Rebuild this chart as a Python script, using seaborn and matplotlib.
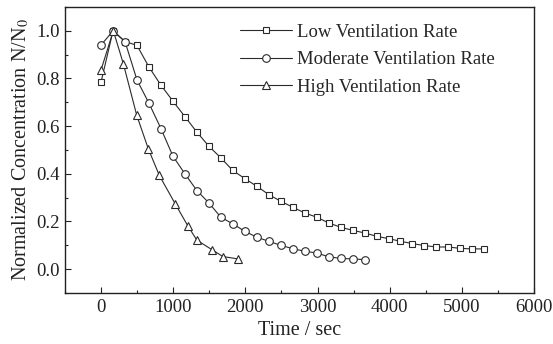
import matplotlib
matplotlib.use("Agg")
import matplotlib.pyplot as plt
from matplotlib.ticker import MultipleLocator
import seaborn as sns
import pandas as pd

# ---- data ----
series_names = ["Low Ventilation Rate", "Moderate Ventilation Rate", "High Ventilation Rate"]

low_t = [0, 166, 332, 498, 664, 830, 996, 1162, 1328, 1494, 1660, 1826, 1992, 2158,
         2324, 2490, 2656, 2822, 2988, 3154, 3320, 3486, 3652, 3818, 3984, 4150,
         4316, 4482, 4648, 4814, 4980, 5146, 5312]
low_n = [0.785, 1.0, 0.955, 0.939, 0.848, 0.772, 0.705, 0.640, 0.575, 0.516, 0.467,
         0.414, 0.380, 0.348, 0.313, 0.285, 0.260, 0.236, 0.218, 0.194, 0.176, 0.163,
         0.152, 0.138, 0.128, 0.117, 0.107, 0.099, 0.093, 0.093, 0.087, 0.085, 0.085]

mod_t = [0, 166, 332, 498, 664, 830, 996, 1162, 1328, 1494, 1660, 1826, 1992, 2158,
         2324, 2490, 2656, 2822, 2988, 3154, 3320, 3486, 3652]
mod_n = [0.940, 1.0, 0.955, 0.794, 0.696, 0.590, 0.474, 0.400, 0.330, 0.278, 0.218,
         0.190, 0.159, 0.134, 0.117, 0.100, 0.086, 0.075, 0.068, 0.052, 0.045, 0.043, 0.040]

high_t = [0, 170, 309, 495, 656, 808, 1026, 1202, 1327, 1535, 1688, 1896]
high_n = [0.836, 1.0, 0.862, 0.645, 0.504, 0.393, 0.275, 0.182, 0.122, 0.082, 0.053, 0.043]

x_ticks = [0, 1000, 2000, 3000, 4000, 5000, 6000]
y_ticks = [0.0, 0.2, 0.4, 0.6, 0.8, 1.0]

sns.set_theme(style="ticks")
plt.rcParams["font.family"] = ["Liberation Serif", "DejaVu Serif"]
plt.rcParams["mathtext.fontset"] = "stix"

fig = plt.figure(figsize=(5.53, 3.44), dpi=100)
ax = fig.add_axes([0.1175, 0.1483, 0.8481, 0.8314])

line_col = "#2a2a2a"
specs = [(low_t, low_n, "s", 5.0), (mod_t, mod_n, "o", 5.5), (high_t, high_n, "^", 6.0)]
for (t, n, m, ms), name in zip(specs, series_names):
    df = pd.DataFrame({"t": t, "n": n})
    sns.lineplot(data=df, x="t", y="n", ax=ax, color=line_col, lw=0.8,
                 marker=m, markersize=ms,
                 markerfacecolor="white", markeredgecolor=line_col,
                 markeredgewidth=0.8, label=name, sort=False, estimator=None)

ax.set_xlim(-500, 6000)
ax.set_ylim(-0.1, 1.1)
ax.set_xticks(x_ticks)
ax.set_yticks(y_ticks)
ax.set_xticklabels([str(v) for v in x_ticks])
ax.set_yticklabels([f"{v:.1f}" for v in y_ticks])
ax.xaxis.set_minor_locator(MultipleLocator(500))
ax.yaxis.set_minor_locator(MultipleLocator(0.1))
ax.tick_params(which="both", direction="in", top=False, right=False,
               labelsize=13.5, colors="#222222", width=0.8, pad=4)
ax.tick_params(which="major", length=4)
ax.tick_params(which="minor", length=2.5)
for s in ax.spines.values():
    s.set_linewidth(1.0)
    s.set_color("#222222")
    s.set_visible(True)

ax.set_xlabel("Time / sec", fontsize=14.5, color="#222222", labelpad=4)
ax.set_ylabel("Normalized Concentration N/N$_0$", fontsize=14.5, color="#222222", labelpad=3)

leg = ax.legend(loc="upper left", bbox_to_anchor=(0.373, 0.941), frameon=False,
                fontsize=13.5, handlelength=2.8, handletextpad=0.27,
                labelspacing=0.55, borderaxespad=0.0, borderpad=0.0, numpoints=1)

fig.savefig("out.png", dpi=100)
